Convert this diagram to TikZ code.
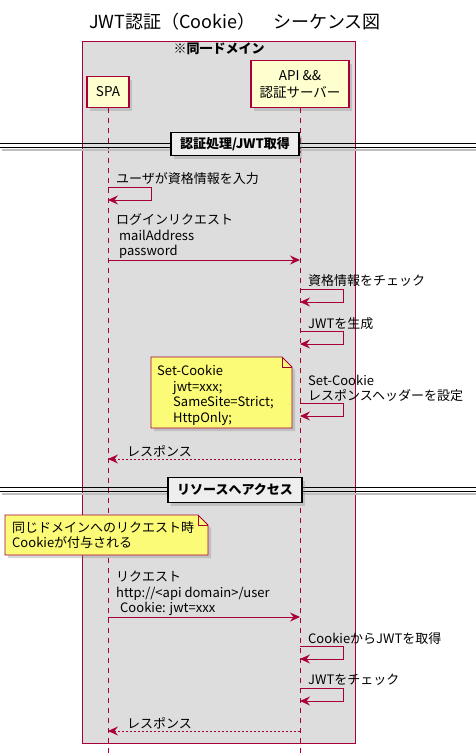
\documentclass[tikz,border=0pt]{standalone}
\usepackage{fontspec}
\setmainfont{Noto Sans CJK JP}
\usetikzlibrary{arrows.meta,positioning,shadows}

\definecolor{umlred}{HTML}{A80036}
\definecolor{actorfill}{HTML}{FEFECE}
\definecolor{notefill}{HTML}{FBFB77}
\definecolor{boxgray}{HTML}{DDDDDD}
\definecolor{sepgray}{HTML}{EEEEEE}
\newcommand{\umlfont}{\fontsize{13}{15.5}\selectfont}

\tikzset{
  umlshadow/.style={drop shadow={shadow xshift=3pt,shadow yshift=-3pt,opacity=.3}},
}

\begin{document}
\begin{tikzpicture}[x=1pt,y=-1pt,font=\umlfont,
  actor/.style={draw=umlred,fill=actorfill,line width=1.2pt,align=center,font=\fontsize{13.5}{17}\selectfont,umlshadow},
  lifeline/.style={draw=umlred,line width=.8pt,dash pattern=on 5pt off 5pt},
  msg/.style={draw=umlred,line width=.9pt,-{Stealth[length=10pt,width=9pt,inset=3.5pt]}},
  ret/.style={msg,dash pattern=on 2pt off 2pt},
  msgtext/.style={anchor=south west,align=left,inner sep=1pt},
  sepbox/.style={draw=black,line width=1.3pt,fill=sepgray,font=\umlfont\bfseries,minimum height=23,umlshadow},
  sepline/.style={draw=black,line width=.9pt},
  sepshade/.style={draw=black!25,line width=1.5pt},
  note/.style={draw=umlred,fill=notefill,line width=.9pt,umlshadow},
  notetext/.style={anchor=north west,align=left,inner xsep=6pt,inner ysep=8pt}]

\useasboundingbox (0,0) rectangle (476,755);

% title
\node (title) at (235,22) {\fontsize{18}{22}\selectfont JWT認証（Cookie）　シーケンス図};

% same domain box
\node[draw=umlred,fill=boxgray,line width=1pt,minimum width=273,minimum height=702,anchor=north west] (samedomain) at (82,41) {};
\node[below=1pt of samedomain.north,inner sep=1pt,font=\umlfont\bfseries] (domainlabel) {※同一ドメイン};

% participants
\node[actor,minimum width=42,minimum height=31] (spa) at (108,92) {SPA};
\node[actor,minimum width=98,minimum height=47] (api) at (300,84) {API \&\&\\認証サーバー};

\coordinate (lifeend) at (0,755);
\draw[lifeline] (spa.south) -- (spa |- lifeend);
\draw[lifeline] (api.south) -- (api |- lifeend);

% 認証処理/JWT取得
\draw[sepshade] (2,150) -- (476,150);
\draw[sepline] (0,143) -- (476,143) (0,147) -- (476,147);
\node[sepbox,minimum width=128] (authsep) at (235,144) {認証処理/JWT取得};

\coordinate (r1) at (0,187);
\node[msgtext,xshift=7pt,yshift=1pt] (t1) at (spa |- r1) {ユーザが資格情報を入力};
\draw[msg] (spa |- r1) -- ++(43,0) -- ++(0,13) -- ++(-43,0);

\coordinate (r2) at (0,260);
\node[msgtext,xshift=7pt] (t2) at (spa |- r2) {ログインリクエスト\\\hspace*{3pt}mailAddress\\\hspace*{3pt}password};
\draw[msg] (spa |- r2) -- (api |- r2);

\coordinate (r3) at (0,289);
\node[msgtext,xshift=7pt,yshift=1pt] (t3) at (api |- r3) {資格情報をチェック};
\draw[msg] (api |- r3) -- ++(43,0) -- ++(0,13) -- ++(-43,0);

\coordinate (r4) at (0,331);
\node[msgtext,xshift=7pt] (t4) at (api |- r4) {JWTを生成};
\draw[msg] (api |- r4) -- ++(43,0) -- ++(0,13) -- ++(-43,0);

\filldraw[note] (151,357) -- (282,357) -- (292,367) -- (292,428) -- (151,428) -- cycle;
\draw[umlred,line width=.9pt] (282,357) -- (282,367) -- (292,367);
\node[notetext] (cookienote) at (151,357) {Set-Cookie\\\hspace*{16pt}jwt=xxx;\\\hspace*{16pt}SameSite=Strict;\\\hspace*{16pt}HttpOnly;};

\coordinate (r5) at (0,403);
\node[msgtext,xshift=7pt] (t5) at (api |- r5) {Set-Cookie\\レスポンスヘッダーを設定};
\draw[msg] (api |- r5) -- ++(43,0) -- ++(0,13) -- ++(-43,0);

\coordinate (r6) at (0,459);
\node[msgtext,xshift=18pt,yshift=1pt] (t6) at (spa |- r6) {レスポンス};
\draw[ret] (api |- r6) -- (spa |- r6);

% リソースへアクセス
\draw[sepshade] (2,494) -- (476,494);
\draw[sepline] (0,487) -- (476,487) (0,491) -- (476,491);
\node[sepbox,minimum width=134,minimum height=25] (resourcesep) at (235,490) {リソースへアクセス};

\filldraw[note] (5,515) -- (198,515) -- (208,525) -- (208,555) -- (5,555) -- cycle;
\draw[umlred,line width=.9pt] (198,515) -- (198,525) -- (208,525);
\node[notetext,inner xsep=7pt,inner ysep=6pt] (domainnote) at (5,515) {同じドメインへのリクエスト時\\Cookieが付与される};

\coordinate (r7) at (0,617);
\node[msgtext,xshift=7pt] (t7) at (spa |- r7) {リクエスト\\http://<api domain>/user\\\hspace*{4pt}Cookie: jwt=xxx};
\draw[msg] (spa |- r7) -- (api |- r7);

\coordinate (r8) at (0,646);
\node[msgtext,xshift=7pt] (t8) at (api |- r8) {CookieからJWTを取得};
\draw[msg] (api |- r8) -- ++(43,0) -- ++(0,13) -- ++(-43,0);

\coordinate (r9) at (0,688);
\node[msgtext,xshift=7pt,yshift=1pt] (t9) at (api |- r9) {JWTをチェック};
\draw[msg] (api |- r9) -- ++(43,0) -- ++(0,13) -- ++(-43,0);

\coordinate (r10) at (0,731);
\node[msgtext,xshift=18pt,yshift=1pt] (t10) at (spa |- r10) {レスポンス};
\draw[ret] (api |- r10) -- (spa |- r10);
\end{tikzpicture}
\end{document}
